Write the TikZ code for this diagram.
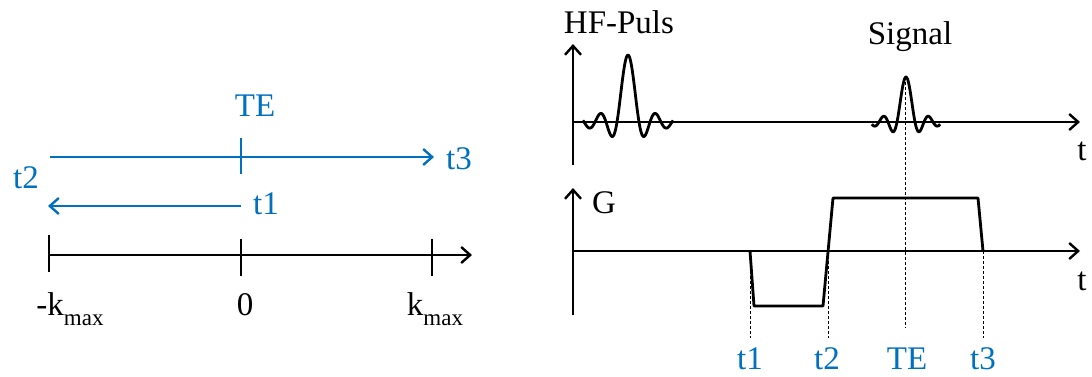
\documentclass[tikz,border=0pt]{standalone}
\usepackage{fontspec}
\setmainfont{Liberation Serif}
\usetikzlibrary{arrows.meta}
\definecolor{tblue}{RGB}{0,112,192}
\newcommand{\kmax}{k\raisebox{-10pt}{\fontsize{23}{23}\selectfont max}}
\begin{document}
\begin{tikzpicture}[x=1pt,y=-1pt,
  axis/.style={line width=2.8pt,-{Straight Barb[length=9pt,width=16pt,line width=2.4pt]}},
  plain/.style={line width=2.8pt},
  tick/.style={line width=2.8pt},
  barrow/.style={tblue,line width=2.8pt,-{Straight Barb[length=9pt,width=16pt,line width=2.4pt]}},
  guide/.style={line width=0.6pt,dash pattern=on 3pt off 2pt},
  lbl/.style={inner sep=0pt,font=\fontsize{33}{38}\selectfont},
  blbl/.style={lbl,text=tblue},
  wave/.style={line width=2.8pt,line join=round}]
\useasboundingbox (0,0) rectangle (1092,376);

% ---------- left: k-space line ----------
\coordinate (kL) at (49,255);
\coordinate (k0) at (241,255);
\coordinate (kR) at (432,255);
\coordinate (kEnd) at (472,255);
\draw[axis] (kL) -- (kEnd);
\draw[tick] (49,235) coordinate (kLt) -- (49,272) coordinate (kLb);
\draw[tick] (241,239) coordinate (k0t) -- (241,276) coordinate (k0b);
\draw[tick] (432,239) coordinate (kRt) -- (432,276) coordinate (kRb);
\node[lbl,anchor=base] (lkmin) at (70,315) {-\kmax};
\node[lbl,anchor=base] (lk0) at (245,315) {0};
\node[lbl,anchor=base] (lkmax) at (435,315) {\kmax};

% blue arrows
\coordinate (bS) at (50,157);
\coordinate (bE) at (434,157);
\draw[barrow] (bS) -- (bE);
\draw[tblue,line width=2.8pt] (241,138) coordinate (teT) -- (241,174) coordinate (teB);
\coordinate (aS) at (241,206);
\coordinate (aE) at (48,206);
\draw[barrow] (aS) -- (aE);
\node[blbl,anchor=base] (lTE) at (255,116) {TE};
\node[blbl,anchor=base] (lt3) at (459,169) {t3};
\node[blbl,anchor=base] (lt2) at (26,188) {t2};
\node[blbl,anchor=base] (lt1) at (266,214) {t1};

% ---------- right top: HF pulse / signal ----------
\coordinate (o1) at (573,122);
\coordinate (y1t) at (573,44);
\coordinate (y1b) at (573,165);
\coordinate (x1e) at (1080,122);
\draw[axis] (y1b) -- (y1t);
\draw[axis] (o1) -- (x1e);
\draw[wave] plot[domain=-4.1:4.1,samples=161,smooth]
  ({628+11*\x},{122-67*sin(180*\x)/(3.14159*\x)});
\draw[wave] plot[domain=-3.8:3.8,samples=161,smooth]
  ({906+9*\x},{122-45*sin(180*\x)/(3.14159*\x)});
\node[lbl,anchor=base] (lHF) at (619,33) {HF-Puls};
\node[lbl,anchor=base] (lSig) at (910,44) {Signal};
\node[lbl,anchor=base] (lt_a) at (1082,160) {t};

% ---------- right bottom: gradient ----------
\coordinate (o2) at (573,251);
\coordinate (y2t) at (573,188);
\coordinate (y2b) at (573,315);
\coordinate (x2e) at (1080,251);
\draw[axis] (y2b) -- (y2t);
\draw[axis] (o2) -- (x2e);
\coordinate (g1) at (750,251);
\coordinate (g2) at (754,306);
\coordinate (g3) at (823,306);
\coordinate (g4) at (833,198);
\coordinate (g5) at (978,198);
\coordinate (g6) at (983,251);
\draw[plain,line join=round] (g1) -- (g2) -- (g3) -- (g4) -- (g5) -- (g6);
\node[lbl,anchor=base] (lG) at (604,213) {G};
\node[lbl,anchor=base] (lt_b) at (1082,290) {t};

% guides
\coordinate (d1) at (750,338);
\coordinate (d2t) at (828,251);
\coordinate (d2) at (828,338);
\coordinate (d3) at (983,338);
\coordinate (dTEt) at (905,77);
\coordinate (dTE) at (905,328);
\draw[guide] (g1) -- (d1);
\draw[guide] (d2t) -- (d2);
\draw[guide] (g6) -- (d3);
\draw[guide] (dTEt) -- (dTE);
\node[blbl,anchor=base] (bt1) at (750,369) {t1};
\node[blbl,anchor=base] (bt2) at (827,369) {t2};
\node[blbl,anchor=base] (bTE) at (907,369) {TE};
\node[blbl,anchor=base] (bt3) at (983,369) {t3};
\end{tikzpicture}
\end{document}
